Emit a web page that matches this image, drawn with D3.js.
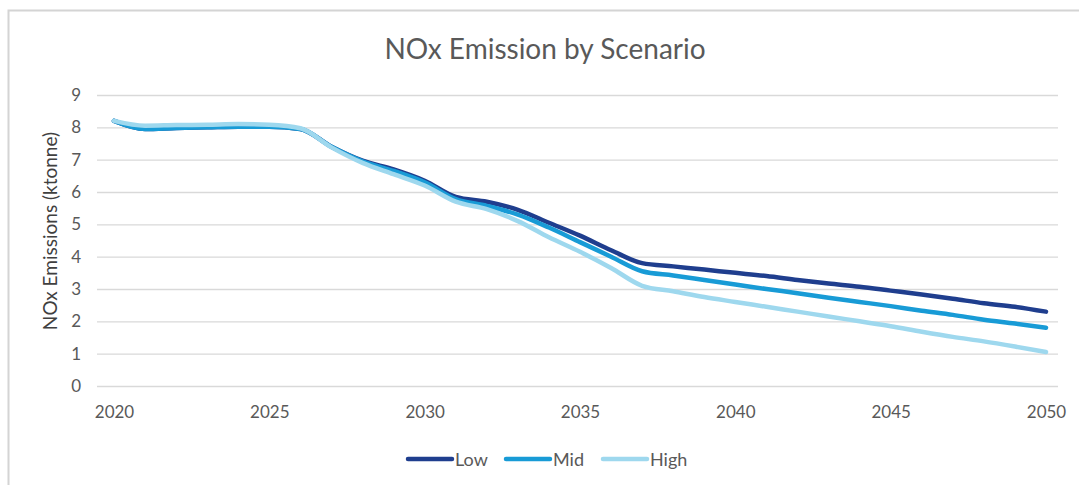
<!DOCTYPE html>
<html>
<head>
<meta charset="utf-8">
<script src="https://cdn.jsdelivr.net/npm/d3@7"></script>
<style>
  html, body { margin: 0; padding: 0; background: #fff; }
  svg { display: block; }
  text { font-family: Lato, "Open Sans", sans-serif; }
</style>
</head>
<body>
<svg id="chart" width="1079" height="485"></svg>
<script>
// Yearly NOx emissions (ktonne) for each scenario
const years = d3.range(2020, 2051);
const lowValues = [8.2, 7.95, 7.98, 8.0, 8.02, 8.02, 7.95, 7.4, 6.97, 6.7, 6.35,
  5.85, 5.7, 5.45, 5.05, 4.65, 4.2, 3.8, 3.7, 3.6, 3.5, 3.4, 3.28, 3.17, 3.07,
  2.95, 2.83, 2.7, 2.56, 2.45, 2.3];
const midValues = [8.2, 7.95, 7.98, 8.0, 8.02, 8.02, 7.95, 7.4, 6.95, 6.65, 6.3,
  5.78, 5.57, 5.3, 4.9, 4.45, 4.0, 3.55, 3.42, 3.28, 3.14, 3.0, 2.87, 2.73, 2.6,
  2.47, 2.33, 2.2, 2.05, 1.93, 1.8];
const highValues = [8.2, 8.05, 8.07, 8.08, 8.1, 8.08, 7.97, 7.38, 6.9, 6.55, 6.2,
  5.7, 5.47, 5.1, 4.6, 4.15, 3.65, 3.1, 2.93, 2.75, 2.6, 2.45, 2.3, 2.15, 2.0,
  1.85, 1.68, 1.52, 1.38, 1.22, 1.05];
const seriesNames = ["Low", "Mid", "High"];
const seriesColors = ["#1f3e8e", "#189bd6", "#9ed8ee"];
const xTicks = [2020, 2025, 2030, 2035, 2040, 2045, 2050];
const yTicks = [0, 1, 2, 3, 4, 5, 6, 7, 8, 9];

const series = [lowValues, midValues, highValues].map((vals, i) => ({
  name: seriesNames[i],
  color: seriesColors[i],
  points: years.map((yr, j) => ({ year: yr, value: vals[j] }))
}));

const svg = d3.select("#chart");

// outer chart frame
svg.append("rect")
  .attr("x", 8.5).attr("y", 10.5)
  .attr("width", 1200).attr("height", 600)
  .attr("fill", "none").attr("stroke", "#d4d4d4").attr("stroke-width", 2);

const x = d3.scaleLinear().domain([2020, 2050]).range([114, 1046]);
const y = d3.scaleLinear().domain([0, 9]).range([386, 95]);

// horizontal gridlines
svg.append("g")
  .attr("transform", "translate(97,0)")
  .call(d3.axisLeft(y).tickValues(yTicks).tickSize(-961).tickFormat(""))
  .call(g => g.select(".domain").remove())
  .call(g => g.selectAll("line").attr("stroke", "#d9d9d9").attr("stroke-width", 1.3));

// y tick labels
svg.append("g")
  .attr("transform", "translate(81,0)")
  .call(d3.axisLeft(y).tickValues(yTicks).tickSize(0).tickPadding(0).tickFormat(d3.format("d")))
  .call(g => g.select(".domain").remove())
  .call(g => g.selectAll("text")
    .attr("fill", "#595959").style("font-size", "17px")
    .style("font-family", "Lato, 'Open Sans', sans-serif"));

// x tick labels
svg.append("g")
  .attr("transform", "translate(0,404)")
  .call(d3.axisBottom(x).tickValues(xTicks).tickSize(0).tickPadding(2).tickFormat(d3.format("d")))
  .call(g => g.select(".domain").remove())
  .call(g => g.selectAll("text")
    .attr("fill", "#595959").style("font-size", "17px")
    .style("font-family", "Lato, 'Open Sans', sans-serif"));

// title
svg.append("text")
  .attr("x", 545).attr("y", 59)
  .attr("text-anchor", "middle")
  .attr("fill", "#595959")
  .style("font-size", "28px")
  .text("NOx Emission by Scenario");

// y axis title
svg.append("text")
  .attr("transform", "translate(57,231) rotate(-90)")
  .attr("text-anchor", "middle")
  .attr("fill", "#404040")
  .style("font-size", "19px")
  .text("NOx Emissions (ktonne)");

// series lines
const line = d3.line()
  .x(d => x(d.year))
  .y(d => y(d.value))
  .curve(d3.curveMonotoneX);

svg.append("g").selectAll("path")
  .data(series)
  .join("path")
  .attr("d", d => line(d.points))
  .attr("fill", "none")
  .attr("stroke", d => d.color)
  .attr("stroke-width", 4.5)
  .attr("stroke-linecap", "round")
  .attr("stroke-linejoin", "round");

// legend
const legendX = [408, 506, 603];
const legend = svg.append("g").selectAll("g")
  .data(series)
  .join("g")
  .attr("transform", (d, i) => `translate(${legendX[i]},459)`);
legend.append("line")
  .attr("x1", 0).attr("x2", 44)
  .attr("stroke", d => d.color)
  .attr("stroke-width", 4.5)
  .attr("stroke-linecap", "round");
legend.append("text")
  .attr("x", 47).attr("y", 6.5)
  .attr("fill", "#595959")
  .style("font-size", "18px")
  .text(d => d.name);
</script>
</body>
</html>
